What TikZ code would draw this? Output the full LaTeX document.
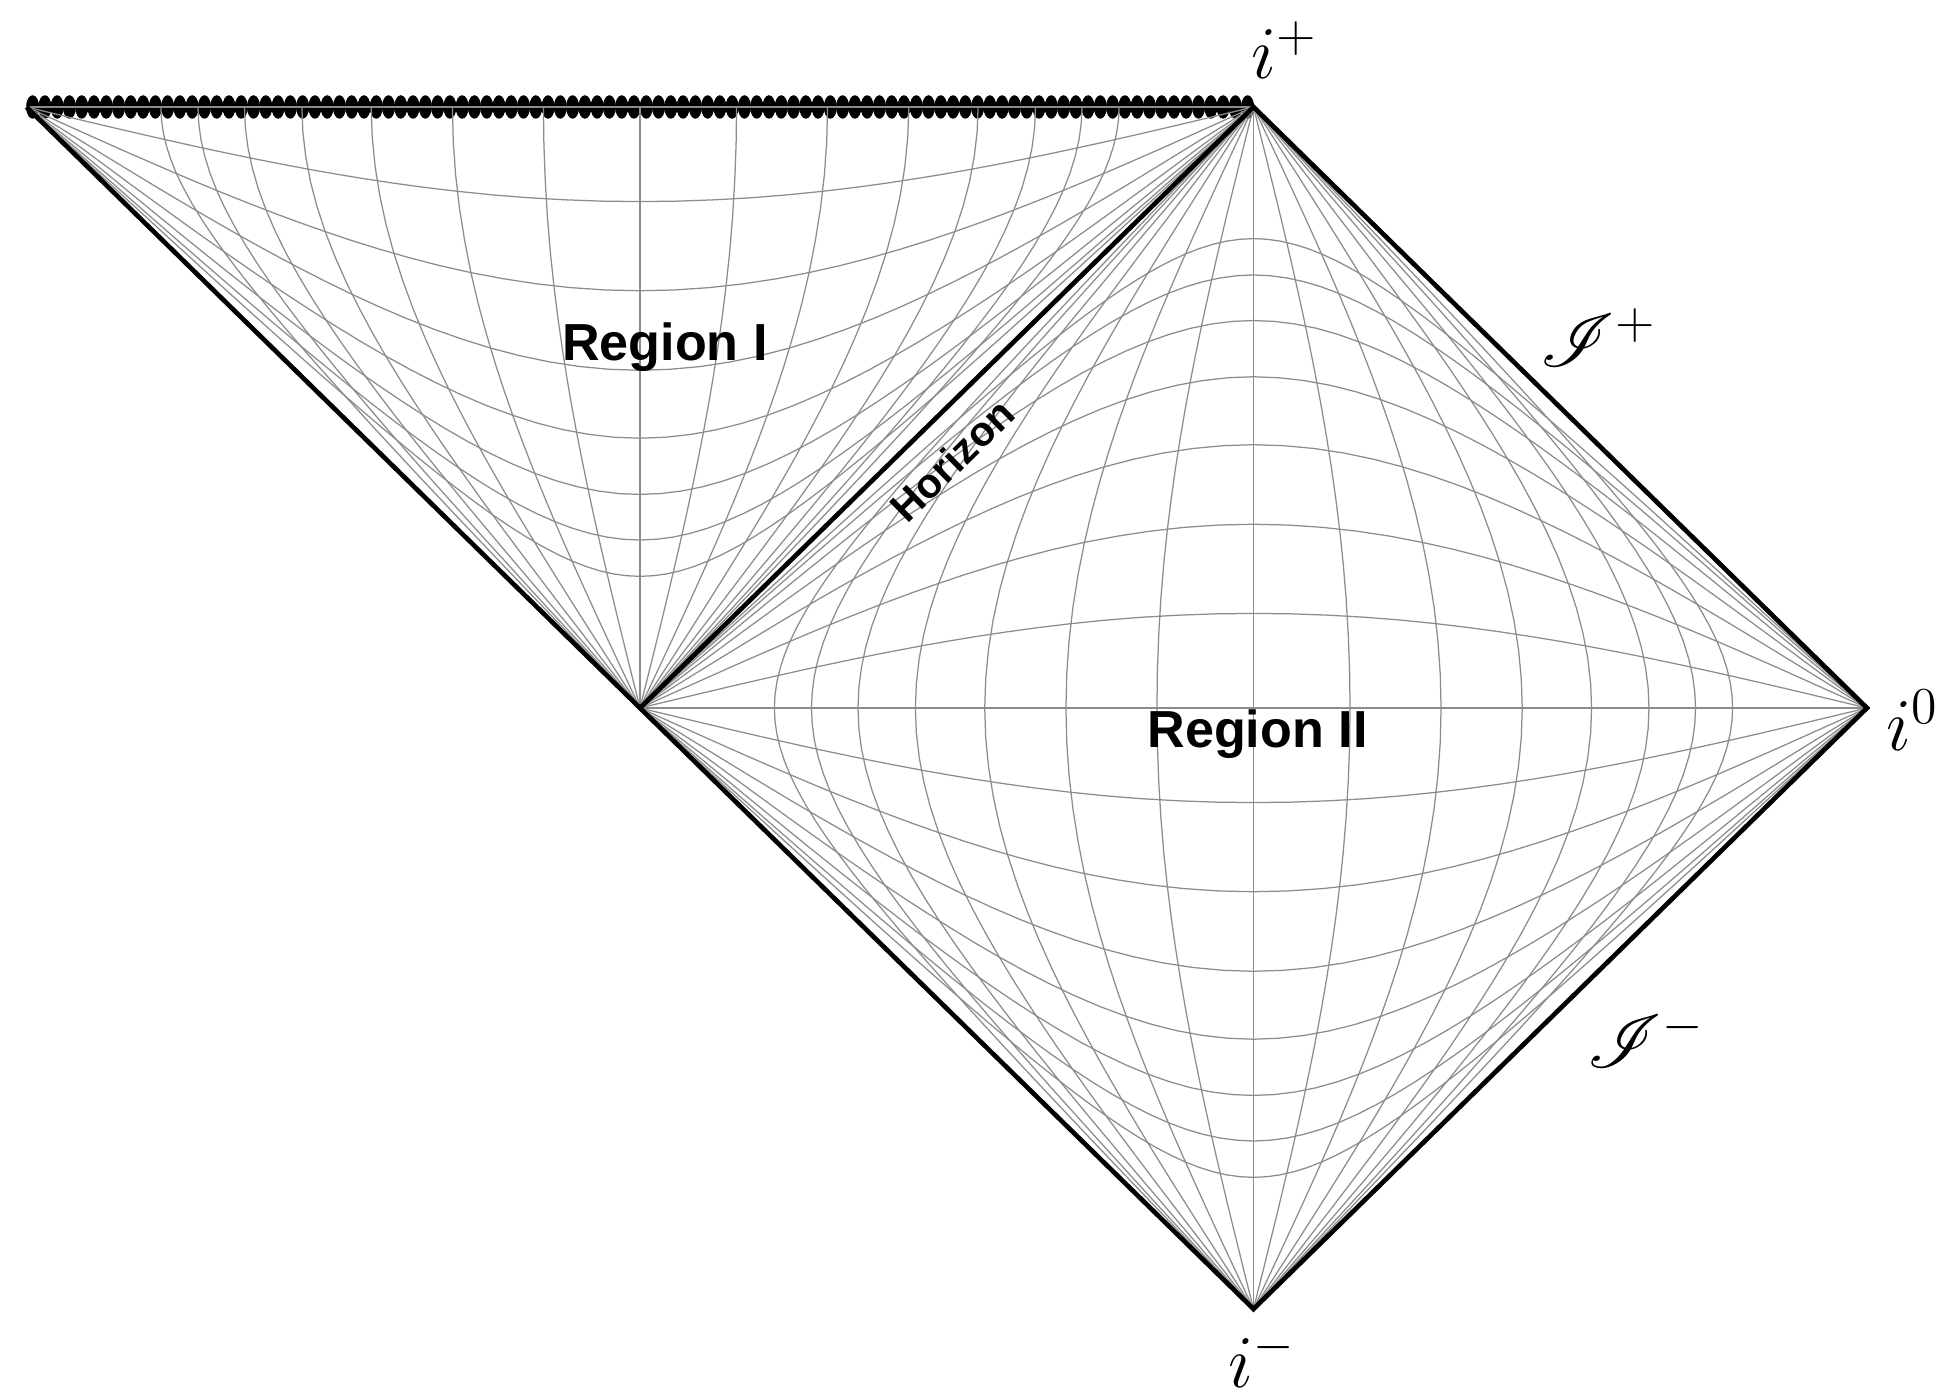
\documentclass[tikz,border=0pt]{standalone}
\usepackage{fontspec}
\usepackage{amsmath,mathrsfs}
\newfontfamily\regfont{Liberation Sans}
\usetikzlibrary{positioning}

\begin{document}
\begin{tikzpicture}[x=6cm, y=5.87775cm,
  gridline/.style={black!45, line width=0.35pt},
  edge/.style={line width=1.3pt},
  blob/.style={fill=black},
  mlabel/.style={inner sep=0pt, font=\fontsize{21}{25}\selectfont},
  rlabel/.style={inner sep=0pt, font=\regfont\bfseries\fontsize{14.5}{17}\selectfont}]
\useasboundingbox (-1.0432,-1.14309) rectangle (2.1141,1.17804);

\coordinate (bif) at (0,0);
\coordinate (ip) at (1,1);
\coordinate (izero) at (2,0);
\coordinate (im) at (1,-1);
\coordinate (tl) at (-1,1);

% singularity
\foreach \i in {0,...,99}
  \fill[blob] (-0.99+0.02*\i,1) ellipse [x radius=0.64mm, y radius=1.15mm];

% region I
\draw[gridline] (tl) -- (ip);
\foreach \n in {1,...,7}{
  \pgfmathsetmacro\q{0.25*\n}
  \draw[gridline] (tl) -- plot[domain=-7:7, samples=141, variable=\s]
    ({(atan(exp((\s)-(\q)))-atan(exp(-(\s)-(\q))))/90}, {(atan(exp((\s)-(\q)))+atan(exp(-(\s)-(\q))))/90}) -- (ip);
}
\foreach \j in {-7,...,7}{
  \pgfmathsetmacro\p{0.25*\j}
  \draw[gridline] (bif) -- plot[domain=-7:0, samples=71, variable=\s]
    ({(atan(exp((\s)+(\p)))-atan(exp((\s)-(\p))))/90}, {(atan(exp((\s)+(\p)))+atan(exp((\s)-(\p))))/90});
}

% region II
\foreach \m in {-7,...,7}{
  \pgfmathsetmacro\q{0.25*\m}
  \draw[gridline] (im) -- plot[domain=-7:7, samples=141, variable=\s]
    ({(atan(exp((\q)+(\s)))+atan(exp((\q)-(\s))))/90}, {(atan(exp((\q)+(\s)))-atan(exp((\q)-(\s))))/90}) -- (ip);
}
\foreach \j in {-7,...,7}{
  \pgfmathsetmacro\p{0.25*\j}
  \draw[gridline] (bif) -- plot[domain=-7:7, samples=141, variable=\s]
    ({(atan(exp((\s)+(\p)))+atan(exp((\s)-(\p))))/90}, {(atan(exp((\s)+(\p)))-atan(exp((\s)-(\p))))/90}) -- (izero);
}

\draw[edge] (tl) -- (im) -- (izero) -- (ip) -- (bif);

\node[mlabel, anchor=base west] (lip) at (0.996,1.048) {$i^+$};
\node[mlabel, anchor=base west] (lim) at (0.958,-1.13) {$i^-$};
\node[mlabel, anchor=base west] (liz) at (2.03,-0.07) {$i^0$};
\node[mlabel, anchor=base west] (lscp) at (1.467,0.569) {$\mathscr{I}^+$};
\node[mlabel, anchor=base west] (lscm) at (1.5436,-0.599) {$\mathscr{I}^-$};
\node[rlabel, anchor=base] (rone) at (0.0407,0.5774) {Region I};
\node[rlabel, anchor=base] (rtwo) at (1.0065,-0.065) {Region II};
\path (bif) -- (ip) node[pos=0.462, sloped, below=7pt, inner sep=0pt, font=\regfont\bfseries\fontsize{11.5}{13}\selectfont] (hor) {Horizon};
\end{tikzpicture}
\end{document}
